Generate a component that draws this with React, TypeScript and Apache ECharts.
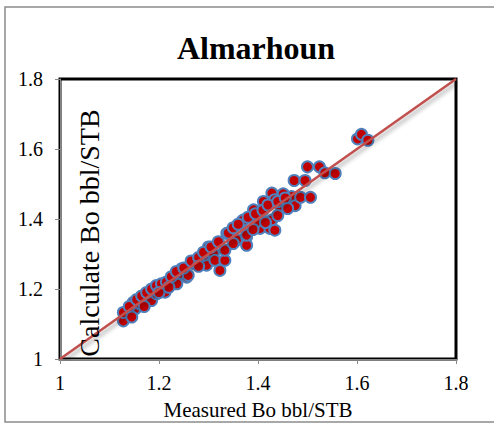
import React, { useEffect, useRef } from "react";
import * as echarts from "echarts";

const titleText = "Almarhoun";
const xName = "Measured Bo bbl/STB";
const yName = "Calculate Bo bbl/STB";
const axisMin = 1;
const axisMax = 1.8;
const axisStep = 0.2;

const measured = [
  1.128, 1.128, 1.148, 1.152, 1.162, 1.178, 1.185, 1.195, 1.212, 1.236, 1.256, 1.246, 1.269, 1.296,
  1.242, 1.259, 1.273, 1.29, 1.3, 1.31, 1.313, 1.323, 1.333, 1.333, 1.337, 1.357, 1.367, 1.377,
  1.377, 1.404, 1.37, 1.377, 1.391, 1.397, 1.411, 1.424, 1.428, 1.428, 1.434, 1.434, 1.446, 1.451,
  1.468, 1.473, 1.475, 1.486, 1.495, 1.5, 1.506, 1.524, 1.535, 1.556, 1.601, 1.609, 1.622,
  1.14, 1.155, 1.165, 1.175, 1.185, 1.195, 1.205, 1.215, 1.225, 1.235, 1.25, 1.265, 1.28, 1.29,
  1.305, 1.32, 1.34, 1.35, 1.36, 1.38, 1.395, 1.41, 1.42, 1.44, 1.455, 1.145, 1.17, 1.2, 1.22,
  1.28, 1.35, 1.39, 1.415, 1.44, 1.46,
];
const calculated = [
  1.109, 1.133, 1.162, 1.143, 1.157, 1.176, 1.167, 1.186, 1.191, 1.215, 1.234, 1.258, 1.273, 1.268,
  1.245, 1.239, 1.273, 1.296, 1.32, 1.301, 1.282, 1.253, 1.282, 1.311, 1.359, 1.34, 1.392, 1.349,
  1.325, 1.373, 1.397, 1.354, 1.426, 1.392, 1.45, 1.373, 1.397, 1.474, 1.455, 1.368, 1.434, 1.472,
  1.464, 1.51, 1.438, 1.462, 1.51, 1.549, 1.462, 1.549, 1.532, 1.53, 1.629, 1.642, 1.625,
  1.15, 1.17, 1.18, 1.19, 1.2, 1.21, 1.215, 1.22, 1.235, 1.25, 1.26, 1.28, 1.29, 1.305,
  1.32, 1.335, 1.36, 1.375, 1.385, 1.405, 1.415, 1.425, 1.44, 1.45, 1.46, 1.12, 1.15, 1.19, 1.205,
  1.265, 1.33, 1.37, 1.39, 1.41, 1.43,
];
const lineX = [1, 1.8];
const lineY = [1, 1.8];

const serif = "Liberation Serif";

export default function App() {
  const ref = useRef<HTMLDivElement>(null);
  useEffect(() => {
    if (!ref.current) return;
    const chart = echarts.init(ref.current, undefined, { renderer: "svg" });
    const pts = measured.map((m, i) => [m, calculated[i]]);
    const line = lineX.map((x, i) => [x, lineY[i]]);
    const axisCommon = {
      type: "value" as const,
      min: axisMin,
      max: axisMax,
      interval: axisStep,
      splitLine: { show: false },
      axisLine: { show: true, onZero: false, lineStyle: { color: "#888", width: 1 } },
      axisTick: { show: true, inside: false, length: 5, lineStyle: { color: "#888" } },
      axisLabel: {
        color: "#000",
        fontFamily: serif,
        fontSize: 20,
        formatter: (v: number) => String(Math.round(v * 10) / 10),
      },
    };
    chart.setOption({
      animation: false,
      backgroundColor: "#fff",
      title: {
        text: titleText,
        left: 251,
        textAlign: "center",
        top: 27,
        textStyle: { fontFamily: serif, fontSize: 32, fontWeight: "bold", color: "#000" },
      },
      grid: {
        left: 60,
        right: 38,
        top: 79,
        bottom: 65,
        show: true,
        borderColor: "#000",
        borderWidth: 3,
        backgroundColor: "transparent",
      },
      xAxis: {
        ...axisCommon,
        axisLabel: { ...axisCommon.axisLabel, margin: 14 },
        name: xName,
        nameLocation: "middle",
        nameGap: 40,
        nameTextStyle: { fontFamily: serif, fontSize: 21, color: "#000" },
      },
      yAxis: {
        ...axisCommon,
        axisLabel: { ...axisCommon.axisLabel, margin: 17 },
      },
      graphic: [
        {
          type: "rect",
          shape: { x: 5, y: 7, width: 520, height: 415 },
          style: { fill: "none", stroke: "#8c8c8c", lineWidth: 1.5 },
          silent: true,
          z: 100,
        },
        {
          type: "text",
          x: 89,
          y: 233,
          rotation: Math.PI / 2,
          style: {
            text: yName,
            fontFamily: serif,
            fontSize: 28,
            fill: "#000",
            align: "center",
            verticalAlign: "middle",
          },
          z: 100,
        },
      ],
      series: [
        {
          type: "scatter",
          data: pts,
          symbol: "circle",
          symbolSize: 11,
          itemStyle: { color: "#C00000", borderColor: "#4F81BD", borderWidth: 2, opacity: 1 },
          z: 2,
        },
        {
          type: "line",
          data: line,
          symbol: "none",
          lineStyle: {
            color: "#C0504D",
            width: 2.5,
            shadowColor: "rgba(0,0,0,0.35)",
            shadowBlur: 4,
            shadowOffsetX: 2,
            shadowOffsetY: 3,
          },
          z: 3,
        },
      ],
    });
    return () => chart.dispose();
  }, []);
  return <div ref={ref} style={{ width: 494, height: 425, position: "absolute", left: 0, top: 0 }} />;
}
